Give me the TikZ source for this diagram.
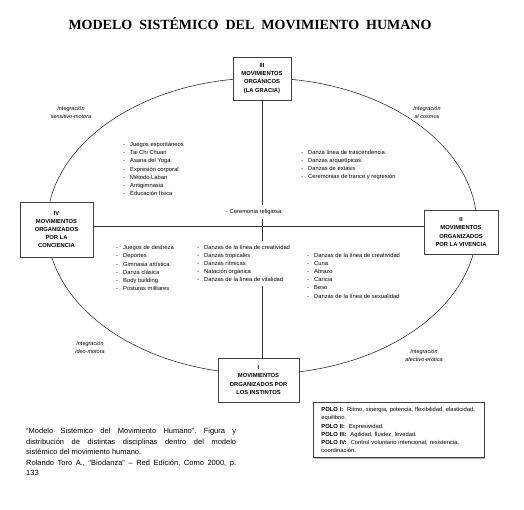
\documentclass[tikz,border=0pt]{standalone}
\usepackage{fontspec}
\setmainfont{Liberation Serif}
\setsansfont{Liberation Sans}
\usetikzlibrary{shadows}

\tikzset{
  mov/.style={draw=black!75, line width=0.9pt, fill=white, align=center, inner sep=1pt,
    font=\fontsize{5.8}{8.2}\selectfont\sffamily\bfseries,
    drop shadow={shadow xshift=0.8pt, shadow yshift=-0.8pt, fill=black!45, opacity=.7}},
  lista/.style={anchor=north west, inner sep=0pt, align=left, font=\fontsize{5.8}{8.2}\selectfont\sffamily},
  integ/.style={align=center, font=\fontsize{5.5}{8.5}\selectfont\sffamily\itshape},
  eje/.style={draw=black!80, line width=0.8pt}
}
\newcommand\itm[1]{\makebox[7pt][l]{-}#1}

\begin{document}
\begin{tikzpicture}[x=1pt,y=-1pt]
\useasboundingbox (0,0) rectangle (524,510);
\node[font=\fontsize{14}{16}\selectfont\rmfamily\bfseries] (titulo) at (250,24) {MODELO\ \ SISTÉMICO\ \ DEL\ \ MOVIMIENTO\ \ HUMANO};
\coordinate (centro) at (262,226);
\draw[black!80, line width=0.6pt] (centro) ellipse [x radius=215pt, y radius=148pt];
\node[mov, minimum width=58pt, minimum height=43pt] (mov III) at (262,78.5) {III\\MOVIMIENTOS\\ORGÁNICOS\\(LA GRACIA)};
\node[mov, minimum width=73pt, minimum height=55pt] (mov IV) at (56.5,229.5) {IV\\MOVIMIENTOS\\ORGANIZADOS\\POR LA\\CONCIENCIA};
\node[mov, minimum width=74pt, minimum height=44pt] (mov II) at (461,232) {II\\MOVIMIENTOS\\ORGANIZADOS\\POR LA VIVENCIA};
\node[mov, minimum width=81pt, minimum height=44pt] (mov I) at (258.5,380) {I\\MOVIMIENTOS\\ORGANIZADOS POR\\LOS INSTINTOS};
\draw[eje] (mov III.south) -- (mov III.south |- mov I.north);
\draw[eje] (mov IV.east |- centro) -- (mov II.west |- centro);
\node[integ] (sensitivo) at (71,112.5) {Integración\\sensitivo-motora};
\node[integ] (cosmos) at (427,112.5) {Integración\\al cosmos};
\node[integ] (ideo) at (90,347.5) {Integración\\ideo-motora};
\node[integ] (afectivo) at (424,355.5) {Integración\\afectivo-erótica};
\node[lista] (gracia) at (123,142) {\itm{Juegos espontáneos}\\\itm{Tai Chi Chuan}\\\itm{Asana del Yoga}\\\itm{Expresión corporal}\\\itm{Método Laban}\\\itm{Antigimnasia}\\\itm{Educación física}};
\node[lista] (trascendencia) at (301,149.7) {\itm{Danza línea de trascendencia}\\\itm{Danzas arquetípicas}\\\itm{Danzas de éxtasis}\\\itm{Ceremonias de trance y regresión}};
\node[lista, anchor=west, fill=white, inner ysep=4pt] (ceremonia) at (226,212) {- Ceremonia religiosa};
\node[lista] (conciencia) at (116,245.3) {\itm{Juegos de destreza}\\\itm{Deportes}\\\itm{Gimnasia artística}\\\itm{Danza clásica}\\\itm{Body building}\\\itm{Posturas militares}};
\node[lista, fill=white, inner ysep=4pt] (vitalidad) at (197,240.7) {\itm{Danzas de la línea de creatividad}\\\itm{Danzas tropicales}\\\itm{Danzas rítmicas}\\\itm{Natación orgánica}\\\itm{Danzas de la línea de vitalidad}};
\node[lista] (sexualidad) at (307,252.7) {\itm{Danzas de la línea de creatividad}\\\itm{Cuna}\\\itm{Abrazo}\\\itm{Caricia}\\\itm{Beso}\\\itm{Danzas de la línea de sexualidad}};
\node[lista, draw=black!75, line width=0.9pt, inner xsep=8pt, inner ysep=5pt, text width=155pt,
  drop shadow={shadow xshift=0.8pt, shadow yshift=-0.8pt, fill=black!45, opacity=.7}, fill=white] (polos) at (313,402)
  {\textbf{POLO I:}\ \ Ritmo, sinergia, potencia, flexibilidad, elasticidad,\\equilibrio.\\\textbf{POLO II:}\ \ Expresividad.\\\textbf{POLO III:}\ \ Agilidad, fluidez, levedad.\\\textbf{POLO IV:}\ \ Control voluntario intencional, resistencia,\\coordinación.};
\node[anchor=north west, inner sep=0pt, text width=210pt, align=justify, font=\fontsize{7.5}{10.5}\selectfont\sffamily] (fuente) at (26,428)
  {\frenchspacing\hyphenpenalty=10000 “Modelo Sistémico del Movimiento Humano”. Figura y\linebreak distribución de distintas disciplinas dentro del modelo\linebreak sistémico del movimiento humano.\par Rolando Toro A., “Biodanza” – Red Edición, Como 2000, p.\linebreak 133};
\end{tikzpicture}
\end{document}
